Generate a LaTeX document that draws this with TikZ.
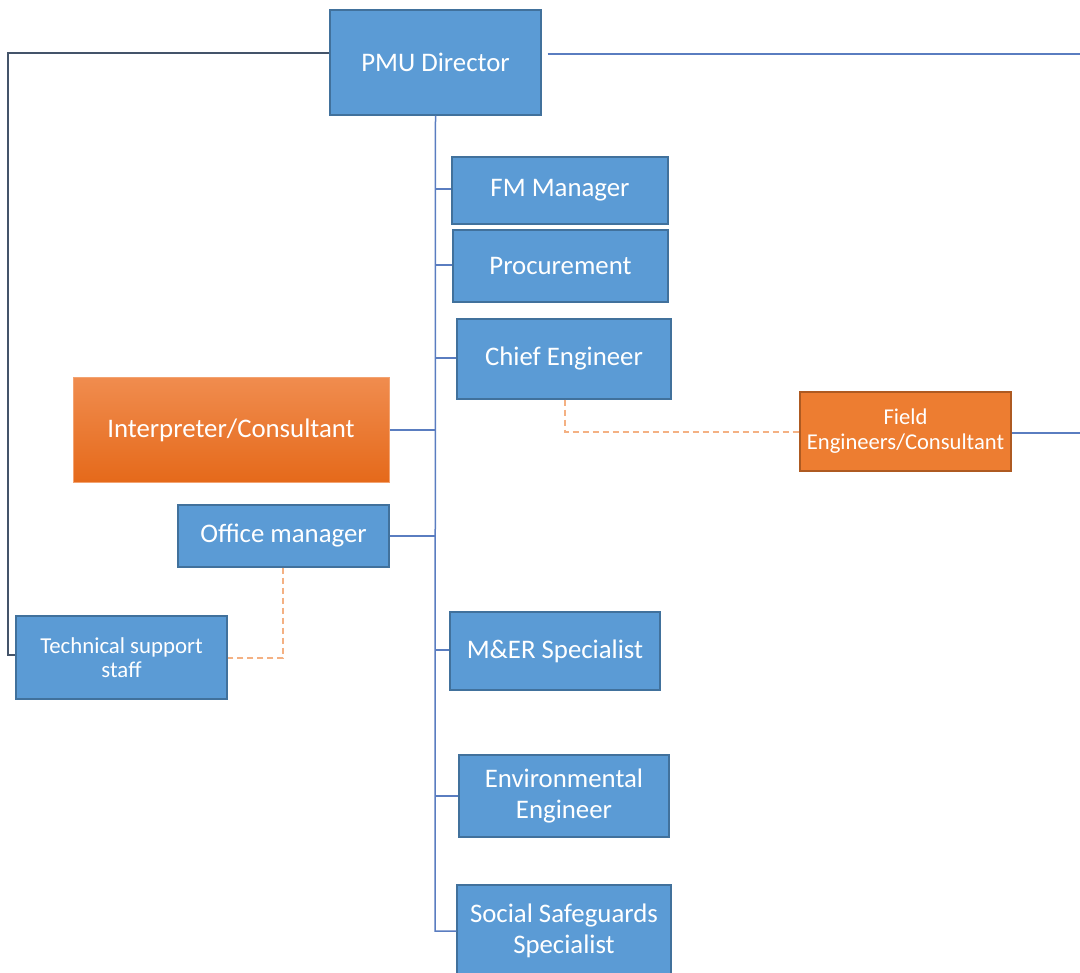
\documentclass[tikz,border=0pt]{standalone}
\usepackage{fontspec}
\setmainfont{Carlito}
\definecolor{boxfill}{HTML}{5B9BD5}
\definecolor{boxdraw}{HTML}{41719C}
\definecolor{trunk}{HTML}{5A7DC0}
\definecolor{darkline}{HTML}{44546A}
\definecolor{orangefill}{HTML}{ED7D31}
\definecolor{orangedraw}{HTML}{AE5A21}
\definecolor{dashorange}{HTML}{F4B183}
\definecolor{orangetop}{HTML}{F08C4E}
\definecolor{orangebot}{HTML}{E5691A}
\tikzset{
  bx/.style={draw=boxdraw, fill=boxfill, line width=1.2pt, text=white, inner sep=0pt, align=center, font=\fontsize{26.8}{30.5}\selectfont},
  obx/.style={draw=orangedraw, fill=orangefill, line width=1.2pt, text=white, inner sep=0pt, align=center, font=\fontsize{22.6}{25}\selectfont},
  gbx/.style={draw=orangetop!80!white, top color=orangetop, bottom color=orangebot, line width=1pt, text=white, inner sep=0pt, align=center, font=\fontsize{26.8}{30}\selectfont},
  sbx/.style={bx, font=\fontsize{22.8}{24}\selectfont},
  tline/.style={draw=trunk, line width=1.5pt},
  dline/.style={draw=darkline, line width=1.5pt},
  dashl/.style={draw=dashorange, line width=2.2pt, dash pattern=on 6pt off 4pt},
}
\begin{document}
\begin{tikzpicture}[x=1pt,y=-1pt]
\useasboundingbox (0,0) rectangle (1080,973);
% nodes
\node[bx, minimum width=211pt, minimum height=105pt] (pmu) at (435.5,62.5) {PMU Director};
\node[bx, minimum width=216pt, minimum height=67pt] (fm) at (560,190.5) {FM Manager};
\node[bx, minimum width=215pt, minimum height=72pt] (proc) at (560.5,266) {Procurement};
\node[bx, minimum width=214pt, minimum height=80pt] (chief) at (564,359) {Chief Engineer};
\node[gbx, minimum width=316pt, minimum height=105pt] (interp) at (231,430.5) {Interpreter/Consultant};
\node[obx, minimum width=211pt, minimum height=79pt] (field) at (905.5,431.5) {Field\\Engineers/Consultant};
\node[bx, minimum width=211pt, minimum height=62pt] (office) at (283.5,536) {Office manager};
\node[sbx, minimum width=211pt, minimum height=83pt] (tech) at (121.5,657.5) {Technical support\\staff};
\node[bx, minimum width=210pt, minimum height=78pt] (mer) at (555,651) {M\&ER Specialist};
\node[bx, minimum width=210pt, minimum height=82pt] (env) at (564,796) {Environmental\\Engineer};
\node[bx, minimum width=214pt, minimum height=92pt] (soc) at (564,931) {Social Safeguards\\Specialist};
% coordinates
\coordinate (tb) at (435,931);
\coordinate (lt) at (8,53);
\coordinate (lb) at (8,655);
\coordinate (re) at (1080,54);
\coordinate (fe) at (1080,433);
% trunk
\draw[tline] (pmu.south) -- (tb) -- (soc.west |- tb);
\draw[tline] (435,189) -- (fm.west |- 0,189);
\draw[tline] (435,265) -- (proc.west |- 0,265);
\draw[tline] (435,358) -- (chief.west |- 0,358);
\draw[tline] (interp.east |- 0,430) -- (435,430);
\draw[tline] (office.east |- 0,536) -- (435,536);
\draw[tline] (435,650) -- (mer.west |- 0,650);
\draw[tline] (435,796) -- (env.west |- 0,796);
% left line
\draw[dline] (pmu.west |- lt) -- (lt) -- (lb) -- (tech.west |- lb);
% right lines
\draw[tline] ([xshift=6pt]pmu.east |- re) -- (re);
\draw[tline] (field.east |- fe) -- (fe);
% dashed
\draw[dashl] (chief.south -| 565,0) -- (565,432) -- (field.west |- 0,432);
\draw[dashl] (office.south -| 283,0) -- (283,658) -- (tech.east |- 0,658);
\end{tikzpicture}
\end{document}
